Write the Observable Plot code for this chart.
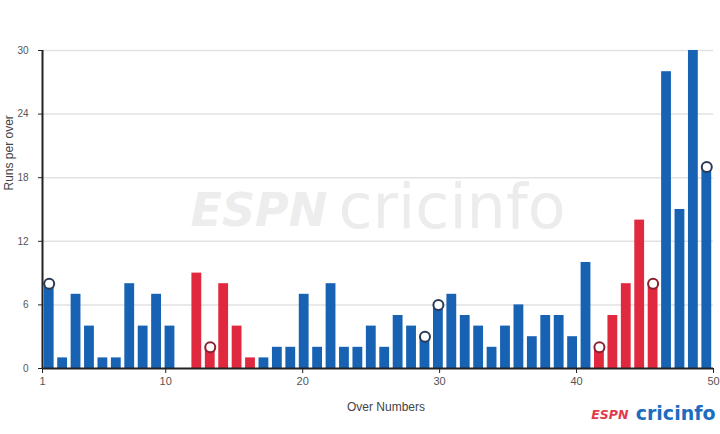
<!DOCTYPE html>
<html>
<head>
<meta charset="utf-8">
<script src="https://cdn.jsdelivr.net/npm/d3@7"></script>
<script src="https://cdn.jsdelivr.net/npm/@observablehq/plot@0.6"></script>
<style>
  html, body { margin: 0; padding: 0; background: #fff; }
  #chart { width: 720px; height: 434px; }
</style>
</head>
<body>
<div id="chart"></div>
<script>
// Runs scored in each over (overs 1..50)
const runs = [8,1,7,4,1,1,8,4,7,4, 0,9,2,8,4,1,1,2,2,7, 2,8,2,2,4,2,5,4,3,6, 7,5,4,2,4,6,3,5,5,3, 10,2,5,8,14,8,28,15,30,19];
// Powerplay overs (drawn red)
const powerplayOvers = [12,13,14,15,16,42,43,44,45,46];
// Overs in which a wicket fell (circle markers)
const wicketOvers = [1,13,29,30,42,46,50];
// Tick labels
const yTicks = [0,6,12,18,24,30];
const xTicks = [1,10,20,30,40,50];

const BLUE = "#1862b3";
const RED = "#e0283f";

const data = runs.map((r, i) => ({over: i + 1, runs: r, pp: powerplayOvers.includes(i + 1)}));
const wickets = data.filter(d => wicketOvers.includes(d.over));

// Bars fill 50 equal slots across the linear 1..50 axis
const n = runs.length;
const slot = (xTicks[xTicks.length - 1] - xTicks[0]) / n;
const left = d => xTicks[0] + (d.over - 1) * slot;
const right = d => xTicks[0] + d.over * slot;
const mid = d => xTicks[0] + (d.over - 0.5) * slot;

const chart = Plot.plot({
  width: 720,
  height: 434,
  marginLeft: 42,
  marginRight: 7,
  marginTop: 50,
  marginBottom: 66,
  style: {fontFamily: "'Liberation Sans', Arial, sans-serif", fontSize: "11px", color: "#555", background: "#fff"},
  x: {type: "linear", domain: [xTicks[0], xTicks[xTicks.length - 1]]},
  y: {domain: [yTicks[0], yTicks[yTicks.length - 1]]},
  marks: [
    Plot.gridY(yTicks.slice(1), {stroke: "#e2e2e2", strokeOpacity: 1, strokeWidth: 1.5}),
    // watermark
    Plot.text(["ESPN"], {frameAnchor: "top-left", dx: 148, dy: 175, textAnchor: "start", lineAnchor: "bottom",
      fontFamily: "'DejaVu Sans', sans-serif", fontWeight: "bold", fontStyle: "italic", fontSize: 46, fill: "#ededed"}),
    Plot.text(["cricinfo"], {frameAnchor: "top-left", dx: 296, dy: 177, textAnchor: "start", lineAnchor: "bottom",
      fontFamily: "'DejaVu Sans', sans-serif", fontSize: 62, fill: "#ececec"}),
    Plot.rectY(data, {x1: left, x2: right, y: "runs", fill: d => d.pp ? RED : BLUE, insetLeft: 1.8, insetRight: 1.8}),
    Plot.dot(wickets, {x: mid, y: "runs", r: 5, fill: "white", stroke: d => d.pp ? "#8c2030" : "#2b3a55", strokeWidth: 2}),
    Plot.axisY(yTicks, {tickSize: 4, tickPadding: 10, label: null, stroke: "#222", fill: "#555", fontSize: 10}),
    Plot.axisX(xTicks, {tickSize: 5, tickPadding: 4, label: null, stroke: "#222", fill: "#555", fontSize: 11}),
    Plot.ruleX([xTicks[0]], {y1: yTicks[0], y2: yTicks[yTicks.length - 1], stroke: "#222", strokeWidth: 2}),
    Plot.ruleY([0], {stroke: "#222", strokeWidth: 2}),
    Plot.text(["Over Numbers"], {frameAnchor: "bottom", dx: 8, dy: 42, fontSize: 12, fill: "#444"}),
    Plot.text(["Runs per over"], {frameAnchor: "left", dx: -33, dy: -19, rotate: -90, fontSize: 12, fill: "#444"}),
    // bottom-right logo
    Plot.text(["cricinfo"], {frameAnchor: "bottom-right", dx: 2, dy: 51, textAnchor: "end", lineAnchor: "bottom",
      fontFamily: "'DejaVu Sans', sans-serif", fontWeight: "bold", fontSize: 19, fill: "#1c6cc0", letterSpacing: "1px"}),
    Plot.text(["ESPN"], {frameAnchor: "bottom-right", dx: -85, dy: 50, textAnchor: "end", lineAnchor: "bottom",
      fontFamily: "'DejaVu Sans', sans-serif", fontWeight: "bold", fontStyle: "italic", fontSize: 12.5, fill: "#e03a4c"})
  ]
});
document.getElementById("chart").appendChild(chart);
</script>
</body>
</html>
